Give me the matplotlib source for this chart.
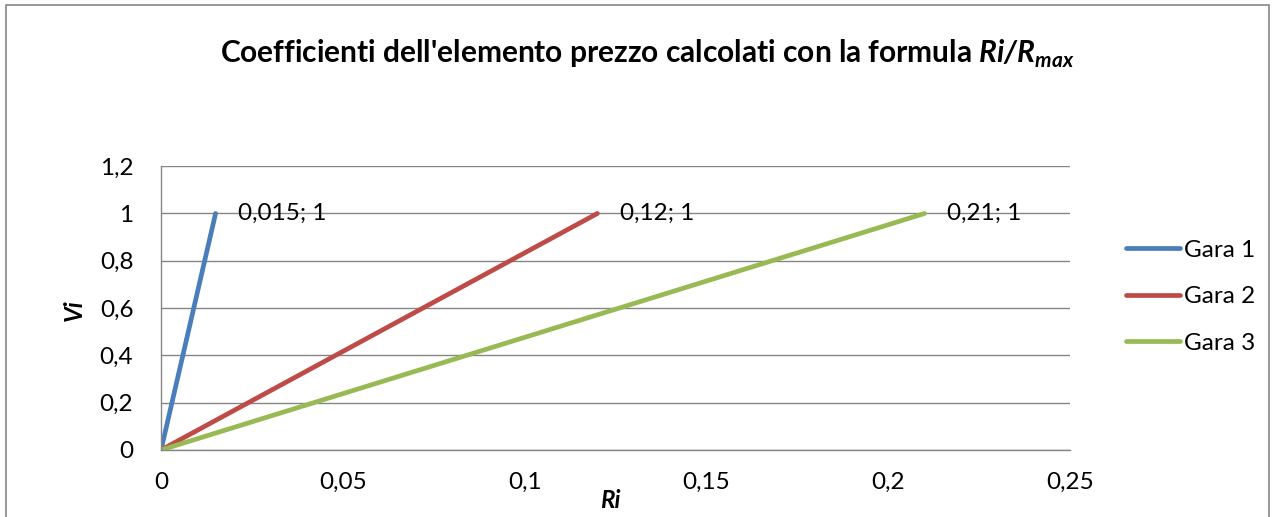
import matplotlib
matplotlib.use("Agg")
import matplotlib.pyplot as plt
from matplotlib.patches import Rectangle

# dati
series = ["Gara 1", "Gara 2", "Gara 3"]
ri_max = [0.015, 0.12, 0.21]
x_vals = [[0, r] for r in ri_max]
y_vals = [[0, 1], [0, 1], [0, 1]]
point_labels = ["0,015; 1", "0,12; 1", "0,21; 1"]
colors = ["#4A7EBB", "#BE4B48", "#98B954"]
xticks = [0, 0.05, 0.1, 0.15, 0.2, 0.25]
xtick_labels = ["0", "0,05", "0,1", "0,15", "0,2", "0,25"]
yticks = [0, 0.2, 0.4, 0.6, 0.8, 1, 1.2]
ytick_labels = ["0", "0,2", "0,4", "0,6", "0,8", "1", "1,2"]

plt.rcParams['font.family'] = ['Lato', 'DejaVu Sans']
plt.rcParams['mathtext.fontset'] = 'custom'
plt.rcParams['mathtext.bfit'] = 'Lato:italic:bold'
plt.rcParams['mathtext.rm'] = 'Lato'

FS = 17.5

fig = plt.figure(figsize=(12.74, 5.17), dpi=100)
# cornice del grafico
fig.patches.append(Rectangle((0.005, -0.01), 0.991, 1.0, transform=fig.transFigure,
                             fill=False, edgecolor="#868686", linewidth=1.2))

ax = fig.add_axes([0.1264, 0.1296, 0.7135, 0.549])
for i in range(len(series)):
    ax.plot(x_vals[i], y_vals[i], color=colors[i], linewidth=3.4, label=series[i],
            solid_capstyle="round")
    ax.annotate(point_labels[i], (x_vals[i][1], y_vals[i][1]), xytext=(16, 0),
                textcoords="offset points", va="center", ha="left", fontsize=FS)

ax.set_xlim(0, 0.25)
ax.set_ylim(0, 1.2)
ax.set_xticks(xticks)
ax.set_xticklabels(xtick_labels, fontsize=FS)
ax.set_yticks(yticks)
ax.set_yticklabels(ytick_labels, fontsize=FS)
ax.tick_params(axis="x", length=0, pad=16)
ax.tick_params(axis="y", length=0, pad=20)
ax.grid(axis="y", color="#868686", linewidth=1)
ax.set_axisbelow(True)
for s in ["top", "right"]:
    ax.spines[s].set_visible(False)
for s in ["left", "bottom"]:
    ax.spines[s].set_color("#868686")
    ax.spines[s].set_linewidth(1)

fig.text(0.479, 0.031, "Ri", fontsize=FS, fontweight="bold", fontstyle="italic",
         ha="center", va="center")
fig.text(0.058, 0.40, "Vi", fontsize=FS, fontweight="bold", fontstyle="italic",
         rotation=90, ha="center", va="center")

fig.text(0.5085, 0.895, r"Coefficienti dell'elemento prezzo calcolati con la formula $\mathbfit{Ri/R}_{\mathbfit{max}}$",
         fontsize=21.5, fontweight="bold", ha="center", va="center")

leg = ax.legend(loc="center left", bbox_to_anchor=(1.038, 0.54), frameon=False,
                fontsize=FS, handlelength=2.2, handletextpad=0.15, labelspacing=1.05)

plt.savefig("out.png", dpi=100)
